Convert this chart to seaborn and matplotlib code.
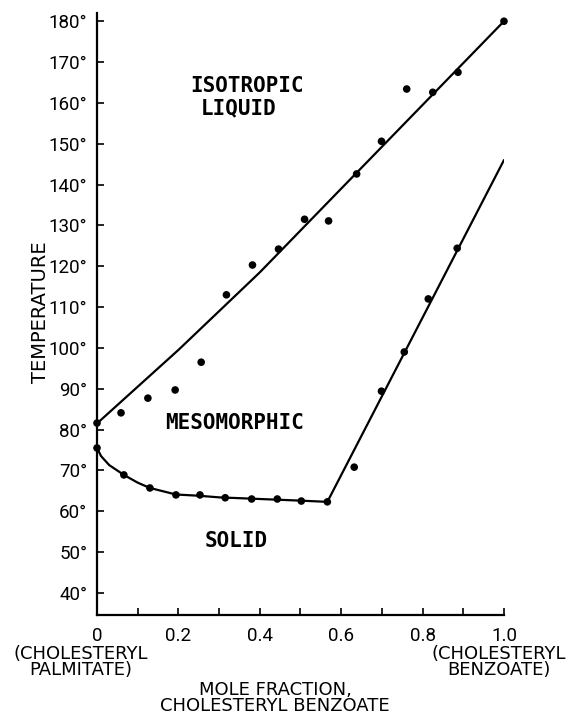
import seaborn as sns
import matplotlib.pyplot as plt
import pandas as pd
from matplotlib.ticker import FixedLocator

# phase diagram: cholesteryl palmitate / cholesteryl benzoate

# liquidus (isotropic / mesomorphic boundary)
liq_x = [0.0, 0.2, 0.4, 0.6, 0.8, 1.0]
liq_t = [81.5, 99.5, 118.5, 139.0, 159.5, 180.0]
liq_pts_x = [0.0, 0.059, 0.125, 0.192, 0.256, 0.318, 0.382, 0.446, 0.510, 0.569,
             0.638, 0.699, 0.761, 0.825, 0.887, 1.0]
liq_pts_t = [81.6, 84.1, 87.7, 89.7, 96.5, 113.0, 120.3, 124.2, 131.5, 131.1,
             142.6, 150.6, 163.4, 162.6, 167.5, 180.0]

# solidus (mesomorphic / solid boundary)
sol_x = [0.0, 0.01, 0.03, 0.066, 0.1, 0.13, 0.194, 0.25, 0.3, 0.4, 0.5, 0.566, 1.0]
sol_t = [75.5, 73.5, 71.3, 68.9, 67.0, 65.7, 64.1, 63.8, 63.4, 63.0, 62.6, 62.3, 146.0]
sol_pts_x = [0.0, 0.066, 0.13, 0.194, 0.253, 0.315, 0.38, 0.443, 0.502, 0.566,
             0.632, 0.699, 0.755, 0.814, 0.885]
sol_pts_t = [75.5, 68.9, 65.7, 64.0, 64.0, 63.3, 63.0, 63.0, 62.5, 62.3,
             70.8, 89.4, 99.0, 112.0, 124.4]

y_ticks = list(range(40, 190, 10))
x_major = [0.0, 0.2, 0.4, 0.6, 0.8, 1.0]
x_labels = ["0", "0.2", "0.4", "0.6", "0.8", "1.0"]
x_minor = [0.1, 0.3, 0.5, 0.7, 0.9]

liq = pd.DataFrame({"x": liq_x, "t": liq_t})
sol = pd.DataFrame({"x": sol_x, "t": sol_t})
pts = pd.DataFrame({"x": liq_pts_x + sol_pts_x, "t": liq_pts_t + sol_pts_t})

sns.set_style("white")
plt.rcParams["font.family"] = ["DejaVu Sans"]
plt.rcParams["text.color"] = "black"
plt.rcParams["axes.labelcolor"] = "black"
plt.rcParams["xtick.color"] = "black"
plt.rcParams["ytick.color"] = "black"
narrow = ["Liberation Sans Narrow", "Roboto", "DejaVu Sans"]

fig = plt.figure(figsize=(5.74, 7.14), dpi=100)
ax = fig.add_axes([0.169, 0.1387, 0.709, 0.843])

sns.lineplot(data=liq, x="x", y="t", sort=False, color="black", linewidth=1.6, ax=ax)
sns.lineplot(data=sol, x="x", y="t", sort=False, color="black", linewidth=1.6, ax=ax)
sns.scatterplot(data=pts, x="x", y="t", color="black", s=30, edgecolor="none",
                ax=ax, clip_on=False, zorder=5)

ax.set_xlim(0, 1.0)
ax.set_ylim(34.6, 182)
ax.set_xlabel("")
ax.set_ylabel("TEMPERATURE", fontsize=14)
ax.yaxis.set_label_coords(-0.14, 0.503)
ax.yaxis.label.set_va("center")

for s in ["top", "right"]:
    ax.spines[s].set_visible(False)
for s in ["left", "bottom"]:
    ax.spines[s].set_color("black")
    ax.spines[s].set_linewidth(1.6)

ax.set_yticks(y_ticks)
ax.set_yticklabels([f"{v}\u00b0" for v in y_ticks], fontsize=13.5, family=narrow)
ax.xaxis.set_major_locator(FixedLocator(x_major))
ax.xaxis.set_minor_locator(FixedLocator(x_minor))
ax.set_xticklabels(x_labels, fontsize=13.5, family=narrow)
ax.tick_params(axis="both", which="both", direction="in", length=5, width=1.2,
               color="black", labelcolor="black", left=True, bottom=True)
ax.tick_params(axis="x", pad=9)
ax.tick_params(axis="y", pad=7)

mono = dict(family="DejaVu Sans Mono", fontsize=15, fontweight="bold",
            ha="center", va="center", color="black")
ax.text(0.369, 164.1, "ISOTROPIC", **mono)
ax.text(0.349, 158.7, "LIQUID", **mono)
ax.text(0.337, 81.6, "MESOMORPHIC", **mono)
ax.text(0.342, 52.7, "SOLID", **mono)

side = dict(ha="center", va="center", fontsize=13, linespacing=0.92, color="black")
fig.text(81 / 574, 1 - 662 / 714, "(CHOLESTERYL\nPALMITATE)", **side)
fig.text(499 / 574, 1 - 662 / 714, "(CHOLESTERYL\nBENZOATE)", **side)
fig.text(275 / 574, 1 - 698 / 714, "MOLE FRACTION,\nCHOLESTERYL BENZOATE", ha="center",
         va="center", fontsize=13, linespacing=0.92, color="black")

fig.savefig("out.png", dpi=100)
